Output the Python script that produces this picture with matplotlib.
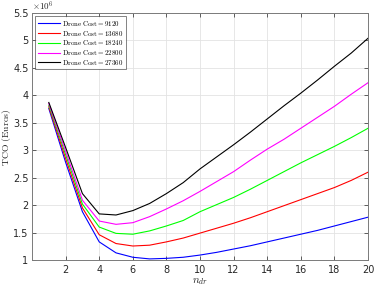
import matplotlib
matplotlib.use("Agg")
import matplotlib.pyplot as plt

# TCO (in units of 1e6 Euros) vs number of drones, one curve per drone cost
n_dr = list(range(1, 21))
costs = [9120, 13680, 18240, 22800, 27360]

tco_9120 = [3.76, 2.78, 1.88, 1.33, 1.13, 1.05, 1.02, 1.03, 1.05, 1.09,
            1.14, 1.20, 1.26, 1.33, 1.40, 1.47, 1.54, 1.62, 1.70, 1.78]
tco_13680 = [3.79, 2.85, 1.95, 1.46, 1.30, 1.255, 1.27, 1.33, 1.40, 1.49,
             1.58, 1.67, 1.77, 1.88, 1.99, 2.10, 2.21, 2.32, 2.45, 2.60]
tco_18240 = [3.82, 2.92, 2.02, 1.60, 1.485, 1.47, 1.53, 1.62, 1.72, 1.88,
             2.01, 2.14, 2.29, 2.45, 2.61, 2.77, 2.92, 3.07, 3.23, 3.40]
tco_22800 = [3.85, 2.98, 2.09, 1.71, 1.65, 1.68, 1.79, 1.93, 2.08, 2.25,
             2.43, 2.61, 2.82, 3.02, 3.20, 3.40, 3.60, 3.80, 4.02, 4.23]
tco_27360 = [3.87, 3.05, 2.21, 1.84, 1.82, 1.90, 2.03, 2.21, 2.41, 2.66,
             2.88, 3.10, 3.33, 3.57, 3.81, 4.04, 4.28, 4.53, 4.77, 5.04]

series = [tco_9120, tco_13680, tco_18240, tco_22800, tco_27360]
colors = ["#0000ff", "#ff0000", "#00ff00", "#ff00ff", "#000000"]

plt.rcParams["mathtext.fontset"] = "cm"

fig = plt.figure(figsize=(3.74, 2.86), dpi=100)
ax = fig.add_axes([0.0856, 0.0909, 0.8984, 0.8636])

for cost, vals, col in zip(costs, series, colors):
    ax.plot(n_dr, vals, color=col, lw=0.8,
            label=r"$\mathrm{Drone\ Cost} = %d$" % cost)

ax.set_xlim(0, 20)
ax.set_ylim(1, 5.5)
ax.set_xticks(range(2, 21, 2))
ax.set_yticks([1, 1.5, 2, 2.5, 3, 3.5, 4, 4.5, 5, 5.5])
ax.set_yticklabels(["1", "1.5", "2", "2.5", "3", "3.5", "4", "4.5", "5", "5.5"])

ax.grid(True, color="#e3e3e3", lw=0.6)
ax.set_axisbelow(True)
ax.tick_params(direction="in", top=True, right=True, length=3, width=0.5,
               labelsize=7, colors="#262626")
ax.tick_params(axis="y", pad=2.5)
for sp in ax.spines.values():
    sp.set_color("#7a7a7a")
    sp.set_linewidth(0.7)

ax.set_xlabel(r"$n_{dr}$", fontsize=8, color="#262626", labelpad=1)
# y label placed in figure coords so it stays inside the small canvas
fig.text(0.017, 0.52, r"$\mathrm{TCO\ (Euros)}$", fontsize=7, color="#262626",
         rotation=90, ha="center", va="center")
ax.text(0.0, 1.0, r"$\times10^{6}$", transform=ax.transAxes,
        fontsize=6.5, color="#262626", va="bottom", ha="left")

leg = ax.legend(loc="upper left", fontsize=5, frameon=True, fancybox=False,
                handlelength=3.2, borderpad=0.35, labelspacing=0.1,
                handletextpad=0.3, borderaxespad=0.5)
leg.get_frame().set_edgecolor("#262626")
leg.get_frame().set_linewidth(0.5)

fig.savefig("out.png", dpi=100)
